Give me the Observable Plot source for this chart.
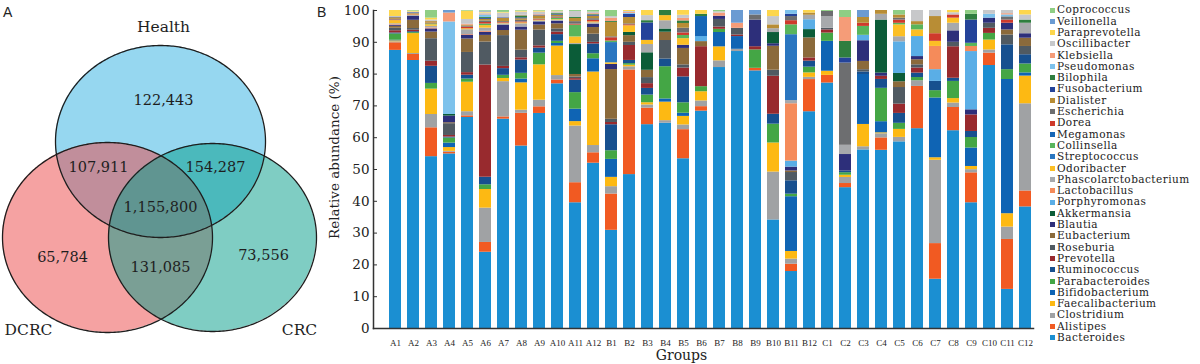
<!DOCTYPE html>
<html><head><meta charset="utf-8">
<script src="https://cdn.jsdelivr.net/npm/d3@7"></script>
<script src="https://cdn.jsdelivr.net/npm/@observablehq/plot@0.6"></script>
<style>
body{margin:0;background:#fff;}
#wrap{position:relative;width:1200px;height:364px;overflow:hidden;background:#fff;}
#venn{position:absolute;left:0;top:0;}
#bars{position:absolute;left:320px;top:0;}
#legend{position:absolute;left:1050px;top:4.4px;font-family:"DejaVu Serif",serif;font-size:10.5px;letter-spacing:0.45px;color:#222;}
.row{height:11.3px;display:flex;align-items:center;white-space:nowrap;line-height:11.3px;overflow:visible;}
.sw{width:5px;height:5px;margin-right:2px;flex:none;}
.panel{position:absolute;font-family:"Liberation Sans",Arial,sans-serif;font-size:14px;line-height:14px;color:#222;}
</style></head><body>
<div id="wrap">
  <div id="venn"></div>
  <div id="bars"></div>
  <div id="legend"></div>
  <div class="panel" style="left:3px;top:5px">A</div>
  <div class="panel" style="left:317px;top:5px">B</div>
</div>
<script>
// ---------- Venn data ----------
const vennSets = ["Health", "DCRC", "CRC"];
const vennCenterX = [160, 107, 212];
const vennCenterY = [141, 237, 237];
const vennRadiusX = [105, 105, 104];
const vennRadiusY = [96, 95, 94];
const vennFill = ["#2eb0e2", "#ec4545", "#009c88"];
const regionCounts = ["122,443", "107,911", "154,287", "1,155,800", "65,784", "131,085", "73,556"];
const regionX = [163, 98, 215, 160, 62, 160, 263];
const regionY = [100, 167, 167, 207, 257, 267, 255];
const setLabelX = [163, 28, 299];
const setLabelY = [27, 330, 330];

// ---------- Bar data ----------
const taxa = ["Bacteroides","Alistipes","Clostridium","Faecalibacterium","Bifidobacterium","Parabacteroides","Ruminococcus","Prevotella","Roseburia","Eubacterium","Blautia","Akkermansia","Porphyromonas","Lactobacillus","Phascolarctobacterium","Odoribacter","Streptococcus","Collinsella","Megamonas","Dorea","Escherichia","Dialister","Fusobacterium","Bilophila","Pseudomonas","Klebsiella","Oscillibacter","Paraprevotella","Veillonella","Coprococcus"];
const taxaColors = ["#1b8fd2","#f15a22","#a0a2a4","#fdb913","#0f64b4","#44a645","#17508f","#982a2e","#505a62","#8b6a3b","#2d2f7a","#0b5c38","#5aaee6","#f58b5a","#a7a9ac","#fcbf25","#2a76c0","#59b55c","#1566b6","#cf3a2c","#6d6e70","#b88d35","#24439a","#2f7e3f","#7dc2ec","#f59c78","#c7c8ca","#fdd64c","#6b9bd2","#8fce84"];

const labelsA = ["A1","A2","A3","A4","A5","A6","A7","A8","A9","A10","A11","A12"];
const labelsB = ["B1","B2","B3","B4","B5","B6","B7","B8","B9","B10","B11","B12"];
const labelsC = ["C1","C2","C3","C4","C5","C6","C7","C8","C9","C10","C11","C12"];

// each row: relative abundance (%) of taxa, in the order of `taxa`
const groupA = [
  [87.9,2.4,0.3,0.3,0.2,2.0,0.3,0.7,0.8,0.6, 0.3,0,0,0.2,0.3,1.0,0,0,0,0.2, 0.2,0.5,0.2,0,0,0,0.2,1.9,0,0],
  [84.7,1.9,0.3,6.3,0,0.3,0.3,0.5,0.5,2.6, 1.3,0,0,0,0.2,0.2,0,0,0,0.1, 0.2,0.2,0.2,0,0,0,0.2,0.3,0,0.2],
  [54.2,9.1,4.2,8.0,0,1.8,5.4,1.6,7.1,2.1, 1.0,0,0,0.3,0.5,0.5,0,0.3,0,0.2, 0,0.5,0,0,0,0,0.5,0.6,0,2.4],
  [54.9,0.5,0.3,1.2,1.4,1.6,0.3,0.5,3.7,0.3, 2.1,0.5,0,0,0,0,0,0,0,0, 0,0,0,0,29.1,2.8,0,0,0.8,0],
  [65.9,0.5,1.3,9.2,0,1.0,1.2,0.8,6.3,4.2, 1.2,0,0,0.2,1.5,0.3,0,0,0,0.5, 0.3,0.3,0,0,0,0.3,1.5,2.6,0,0.2],
  [24.2,3.1,10.9,5.9,0,1.5,2.4,35.6,7.3,2.1, 1.0,0,0,0.3,1.0,0.8,0,0.5,0,0.5, 0.5,0.5,0.3,0.3,0.8,0.3,0.3,0.3,0.3,0.2],
  [65.9,0.7,11.1,1.0,0,1.0,2.1,0.7,9.7,1.6, 1.6,0,0,0,0.5,0.2,0,0,0,0.2, 0.3,1.0,0.2,0,0,0,1.5,0.2,0,0.6],
  [57.5,10.3,1.0,8.6,1.2,1.8,4.2,0.7,2.4,6.3, 1.0,0,0,0,1.0,0.3,0,0,0,0.3, 0.5,0.5,0.3,0.6,0,0.2,1.0,0.3,0,0.2],
  [68.1,2.1,2.1,11.2,0,3.7,1.6,0.7,5.0,1.6, 1.0,0,0,0,0.3,0.2,0,0,0,0.2, 0.2,1.0,0.2,0,0,0.2,0.8,0.3,0,0.2],
  [77.1,1.2,1.4,9.3,0.8,0.7,2.1,0.8,1.0,1.6, 0.8,0,0,0,0.3,0.2,0,0.4,0,0.2, 0.3,0.5,0.2,0.3,0,0,0.6,0.2,0,0.2],
  [39.5,6.3,17.8,1.4,3.9,5.2,3.9,0.5,0.5,0.8, 0,9.4,0,0,0.3,2.1,0,3.7,0,0.3, 0.8,1.0,0,0.3,0,0,1.9,0,0,0.3],
  [52.4,3.3,2.3,23.3,4.2,1.6,3.1,0.5,2.6,2.1, 1.0,0,0,0,0.5,0.3,0,0,0,0.5, 0.5,0.8,0.3,0.2,0,0.3,0.5,0,0,0.5]
];
const groupB = [
  [30.6,11.3,2.3,2.9,5.6,2.7,8.1,0.7,1.0,15.5, 1.6,0,0,0,0,0.5,6.3,0.5,0,1.0, 0.3,4.5,0,0.3,0,1.0,0.5,0,0,1.9],
  [48.4,32.9,1.0,0.5,0,0.5,1.0,4.7,1.0,2.1, 0,1.0,0,0,0,2.1,0,0,0,0.3, 0.3,2.0,1.0,0,0.3,0.3,0.3,0.3,0,0],
  [64.1,5.2,1.0,0.7,0,2.4,2.1,1.5,1.9,2.3, 0,5.5,0,0,2.6,1.3,0,0,0,0, 0,0,5.5,0.7,0,0,1.6,1.6,0,0],
  [64.3,0,0.8,5.8,1.0,10.1,2.4,0,5.8,2.6, 0,1.0,0,0,2.6,1.6,0,0,0,0, 0,0,0,1.6,0,0,0,0,0,0],
  [53.7,9.2,1.5,2.7,1.0,3.3,8.2,2.8,1.0,5.2, 1.0,0,0,0,0,2.1,0,1.0,0,0.8, 1.5,1.5,0,0.8,0,0.8,1.0,1.5,0,0],
  [68.5,1.4,1.8,2.9,0,1.6,0,12.6,0,1.6, 0,0,1.6,0,0,0,0,0,6.3,0, 0,0,0,0.7,0,0,0,1.2,0,0],
  [81.9,0,2.1,4.4,4.5,1.0,0,0.7,2.4,0, 1.0,0,0,0,0,0,0,0,0,0, 0,0,0,0,0,1.0,0.4,0,0,0.4],
  [87.1,0,0.7,0,4.0,0,0,0.5,2.1,0, 0,0,0,0,0,0,0,0,0,0, 0,0,0,0,0,1.6,0,0,4.0,0],
  [81.1,0.8,0,0,0,5.8,0,1.0,0,0, 8.4,0,0,0,0,0,0,0,0,0, 1.6,0,0,0,0,0,0,0,1.4,0],
  [34.0,0,15.0,9.1,0,5.9,3.1,11.9,1.9,7.5, 0.8,3.5,0,0,1.2,0,0,0,0,0, 0,1.2,0,0,0,0,2.6,1.9,0,0],
  [17.9,2.3,1.6,2.4,17.2,0.8,4.2,0,2.6,0.5, 1.2,0,1.9,18.0,1.0,0,20.7,3.1,0,1.3, 1.3,0,0.7,0,1.2,0,0,0,0,0],
  [68.1,10.1,0.7,1.4,0,1.8,1.9,1.0,0,6.3, 0,2.6,3.1,0,1.4,0,0,0,0,0, 0,0.7,0,0,0,0,0,0.8,0,0]
];
const groupC = [
  [77.2,2.4,0,1.3,9.4,2.6,0,1.0,0.5,0, 0,0,0,0,3.7,0,0,0,0,0, 1.6,0,0,0,0,0,0,0,0,0.3],
  [44.2,1.3,1.9,0.7,0,0.8,0.5,0,0,0, 5.2,0,0,0,2.9,0,0,0,0,0, 25.8,0,1.6,5.2,0,7.5,0,0,0,2.2],
  [56.1,0,1.0,7.0,15.7,0,0.8,0,0.7,2.6, 6.5,0,1.7,0,0,0,0,2.8,0,1.0, 0,1.8,0,0,0,0,0,0,2.2,0],
  [56.1,3.9,1.3,0.3,3.5,10.5,2.8,1.0,0,0, 1.0,16.7,0,0,1.8,0,0,0,0,0, 0,1.2,0,0,0,0,0,0,0,0],
  [58.4,0,1.4,2.5,0,1.9,3.1,2.9,5.2,1.8, 0,2.6,9.9,0,1.6,3.7,0,0.5,0,1.0, 0.6,1.0,0,0,0,0,0,0,0,1.4],
  [62.9,13.3,1.8,0,0,1.0,1.4,1.6,1.0,1.6, 1.0,0,6.3,0,0,2.1,0,1.6,0,0, 0,1.0,0,0,0,0,3.5,0,0,0],
  [15.5,11.2,26.2,0.8,18.8,2.3,2.9,0,0,0, 0,0,3.7,7.3,0,1.6,0,0,0,2.4, 0,5.4,0,0,0,0,1.9,0,0,0],
  [62.2,7.3,1.4,1.4,0,5.4,1.0,9.9,1.4,0, 3.6,0,0,0,2.4,1.6,0,0,0,1.0, 0,0,0,0,0,0,0.7,0.7,0,0],
  [39.5,9.4,1.0,1.0,5.8,3.3,1.9,5.2,0,0, 1.6,0,18.3,1.6,0,0,0,1.0,0,0, 0,0,7.3,1.8,0,0,0,0,0,1.2],
  [82.7,3.9,1.0,3.1,0,2.1,0,1.6,1.6,0, 1.6,0,0,0,0,0,0,0,0,0, 0,0,0,0,1.2,0,1.2,0,0,0],
  [12.3,15.7,3.9,4.2,42.2,3.1,7.8,0,3.1,1.6, 2.1,0,0,0,0,0,0,0,0,1.0, 1.0,0,0,0,0.6,0.4,1.0,0,0,0],
  [38.2,5.0,27.4,8.7,1.0,2.8,2.9,0,2.6,2.6, 1.4,0,0,0,3.3,0,0,0,0,0, 0,0,0,1.0,0,0,1.6,1.4,0,0]
];
const yTicks = [0,10,20,30,40,50,60,70,80,90,100];

// ---------- Venn ----------
const areaPts = [], outlinePts = [];
vennSets.forEach((s, i) => {
  for (let k = 0; k <= 180; k++) {
    const th = Math.PI - Math.PI * k / 180;
    areaPts.push({set: s, x: vennCenterX[i] + vennRadiusX[i] * Math.cos(th),
      y1: vennCenterY[i] - vennRadiusY[i] * Math.sin(th),
      y2: vennCenterY[i] + vennRadiusY[i] * Math.sin(th)});
  }
  for (let k = 0; k <= 360; k++) {
    const th = 2 * Math.PI * k / 360;
    outlinePts.push({set: s, x: vennCenterX[i] + vennRadiusX[i] * Math.cos(th),
      y: vennCenterY[i] + vennRadiusY[i] * Math.sin(th)});
  }
});
const vennMarks = vennSets.map((s, i) => Plot.areaY(areaPts.filter(d => d.set === s),
  {x: "x", y1: "y1", y2: "y2", fill: vennFill[i], fillOpacity: 0.5, curve: "linear"}));
const venn = Plot.plot({
  width: 320, height: 364, margin: 0,
  x: {domain: [0, 320], range: [0, 320], axis: null},
  y: {domain: [0, 364], range: [0, 364], axis: null},
  style: {fontFamily: "DejaVu Serif", background: "transparent", color: "#222"},
  marks: [
    ...vennMarks,
    Plot.line(outlinePts, {x: "x", y: "y", z: "set", stroke: "#1e1e1e", strokeWidth: 1.3}),
    Plot.text(regionCounts.map((c, i) => ({c, x: regionX[i], y: regionY[i]})),
      {x: "x", y: "y", text: "c", fontSize: 14.5, fill: "#1e1e1e"}),
    Plot.text(vennSets.map((s, i) => ({s, x: setLabelX[i], y: setLabelY[i]})),
      {x: "x", y: "y", text: "s", fontSize: 15.5, fill: "#1e1e1e"})
  ]
});
document.getElementById("venn").append(venn);

// ---------- Bars ----------
const samples = [...labelsA, ...labelsB, ...labelsC];
const rows = [...groupA, ...groupB, ...groupC];
const records = [];
samples.forEach((s, i) => taxa.forEach((t, j) => records.push({sample: s, taxon: t, value: rows[i][j] || 0})));

const bars = Plot.plot({
  width: 730, height: 364, marginLeft: 53, marginRight: 17, marginTop: 10, marginBottom: 36,
  style: {fontFamily: "DejaVu Serif", fontSize: "13.5px", color: "#222", background: "transparent"},
  x: {type: "band", domain: samples, paddingInner: 0.36, paddingOuter: 0.24, align: 0.87},
  y: {domain: [0, 1]},
  color: {domain: taxa, range: taxaColors},
  marks: [
    Plot.barY(records, {x: "sample", y: "value", fill: "taxon", offset: "normalize"}),
    Plot.frame({anchor: "left", stroke: "#333", strokeWidth: 1.5}),
    Plot.frame({anchor: "bottom", stroke: "#333", strokeWidth: 1.5}),
    Plot.axisY({ticks: yTicks.map(d => d / 100), tickFormat: d => Math.round(d * 100), tickSize: -4, tickPadding: 8, label: null, fontSize: 13.5, stroke: "#333"}),
    Plot.axisX({tickSize: 0, tickPadding: 11, label: null, fontSize: 9, fontFamily: "Liberation Serif"}),
    Plot.text(["Relative abundance (%)"], {frameAnchor: "left", textAnchor: "middle", lineAnchor: "middle", dx: -39, dy: -12, rotate: -90, fontSize: 13.5, fill: "#222"}),
    Plot.text(["Groups"], {frameAnchor: "bottom", textAnchor: "middle", lineAnchor: "middle", dx: -22, dy: 27, fontSize: 14, fill: "#222"})
  ]
});
document.getElementById("bars").append(bars);

// ---------- Legend ----------
const legend = document.getElementById("legend");
taxa.map((t, i) => ({t, c: taxaColors[i]})).reverse().forEach(({t, c}) => {
  const row = document.createElement("div");
  row.className = "row";
  const sw = document.createElement("span");
  sw.className = "sw"; sw.style.background = c;
  const tx = document.createElement("span");
  tx.textContent = t;
  row.append(sw, tx);
  legend.append(row);
});
</script>
</body></html>
